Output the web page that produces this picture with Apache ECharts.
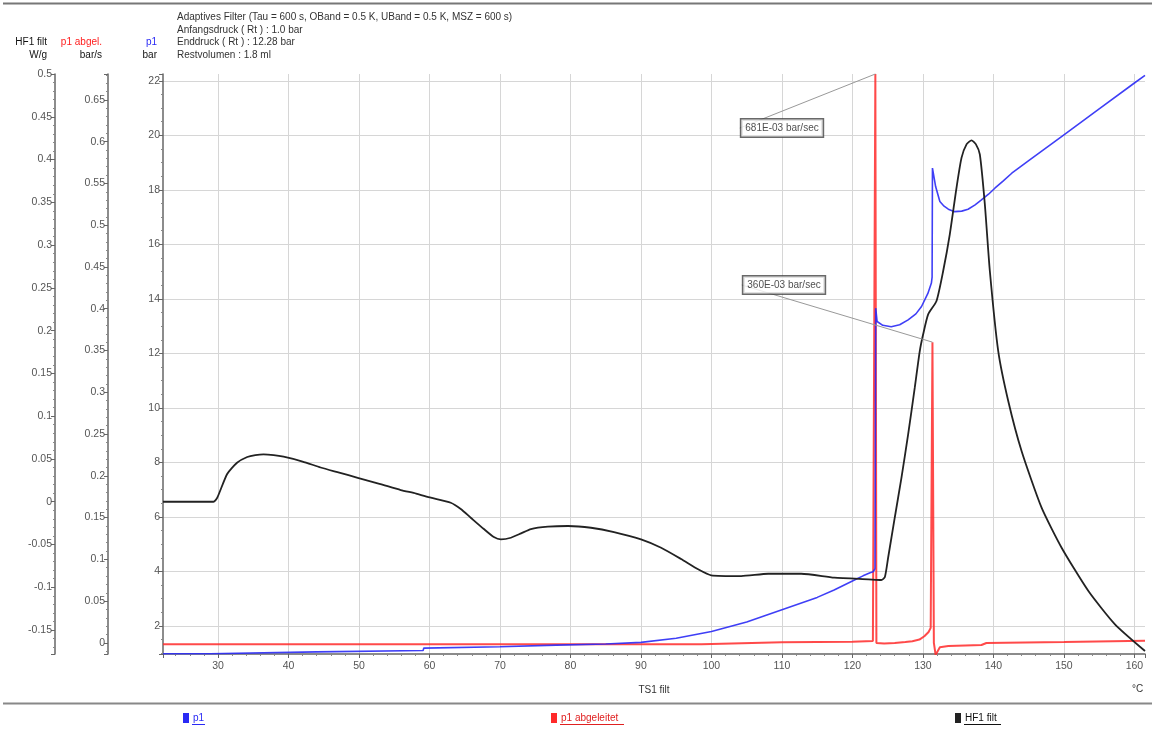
<!DOCTYPE html>
<html><head><meta charset="utf-8">
<script src="https://cdn.jsdelivr.net/npm/echarts@6/dist/echarts.min.js"></script>
<style>html,body{margin:0;padding:0;background:#fff}#c{width:1155px;height:731px}</style>
</head><body><div id="c"></div><script>
// ---- header text ----
const headerLines = [
  'Adaptives Filter (Tau = 600 s, OBand = 0.5 K, UBand = 0.5 K, MSZ = 600 s)',
  'Anfangsdruck ( Rt ) : 1.0 bar',
  'Enddruck ( Rt ) : 12.28 bar',
  'Restvolumen : 1.8 ml'
];
const xAxisName = 'TS1 filt';
const xAxisUnit = '°C';
const seriesNames = ['p1', 'p1 abgeleitet', 'HF1 filt'];
const axisTitles = [['p1', 'bar'], ['p1 abgel.', 'bar/s'], ['HF1 filt', 'W/g']];
const annotationTexts = ['681E-03 bar/sec', '360E-03 bar/sec'];

// ---- p1 (bar) ----
const p1T = [22.2, 28.9, 29.0, 44.0, 44.1, 59.1, 59.2, 70, 78, 85, 90, 95, 100, 105, 110, 115, 117.4, 120, 121.5, 122.5, 122.93, 123.2, 123.3, 123.5, 124.3, 125.5, 126.7, 127.9, 129.0, 129.8, 130.7, 131.2, 131.3, 131.35, 131.8, 132.4, 133.0, 133.6, 134.5, 135.5, 136.4, 137.4, 138.3, 139.3, 140.2, 141.4, 142.6, 145, 150, 155, 160, 161.5];
const p1V = [0.98, 0.98, 1.05, 1.05, 1.1, 1.1, 1.19, 1.24, 1.3, 1.34, 1.4, 1.55, 1.8, 2.15, 2.6, 3.05, 3.32, 3.65, 3.84, 3.95, 3.99, 4.1, 13.66, 13.17, 13.03, 12.98, 13.05, 13.23, 13.45, 13.72, 14.2, 14.58, 14.8, 18.8, 18.12, 17.57, 17.4, 17.29, 17.2, 17.22, 17.29, 17.45, 17.63, 17.84, 18.06, 18.33, 18.61, 19.07, 20.02, 20.97, 21.92, 22.2];

// ---- p1 abgeleitet (bar/s) ----
const dT = [22.2, 98.6, 98.7, 110, 120, 122.9, 123.15, 123.25, 123.4, 124.5, 126, 127.5, 128.5, 129.5, 130.2, 130.8, 131.1, 131.25, 131.35, 131.55, 131.8, 132.4, 133.6, 136, 138.3, 139, 150, 161.5];
const dV = [-0.0017, -0.0017, 0.0003, 0.0008, 0.0015, 0.0024, 0.003, 0.681, 0.0, -0.0008, 0.0, 0.001, 0.002, 0.004, 0.008, 0.013, 0.018, 0.02, 0.36, 0.0, -0.0144, -0.0053, -0.0037, -0.003, -0.0025, -0.0001, 0.001, 0.0027];

// ---- HF1 filt (W/g) ----
const hT = [22.2, 29.36, 29.9, 31.3, 32.7, 34.15, 35.3, 36.46, 37.9, 39.3, 42, 44.56, 47.2, 49.82, 52.9, 55.92, 58.1, 60.18, 63.02, 64.44, 65.86, 67.71, 69.13, 70.13, 71.55, 73, 74.39, 76.8, 79.64, 82.91, 86.18, 90.01, 92.86, 95.7, 98.11, 99.96, 104.22, 108.05, 112.74, 117.43, 122.26, 124.1, 124.6, 125.06, 126.0, 126.95, 127.9, 128.84, 129.55, 130.03, 130.74, 131.92, 132.87, 133.81, 134.76, 135.47, 136.2, 136.89, 137.5, 138.07, 138.78, 139.49, 140.68, 142.1, 143.99, 146.83, 149.67, 153.47, 157.24, 161.5];
const hV = [0, 0, 0.0047, 0.0324, 0.0456, 0.0523, 0.0545, 0.0554, 0.0545, 0.0526, 0.047, 0.040, 0.034, 0.028, 0.021, 0.0137, 0.0095, 0.0047, -0.0012, -0.0085, -0.0187, -0.0319, -0.0413, -0.044, -0.0421, -0.037, -0.0319, -0.0292, -0.0284, -0.0304, -0.0354, -0.044, -0.0538, -0.067, -0.079, -0.086, -0.0869, -0.0842, -0.0842, -0.0888, -0.0907, -0.0915, -0.088, -0.0655, -0.0187, 0.028, 0.0788, 0.1333, 0.176, 0.1957, 0.219, 0.2346, 0.2697, 0.3126, 0.367, 0.402, 0.418, 0.4225, 0.418, 0.406, 0.3477, 0.2697, 0.176, 0.1177, 0.0593, -0.007, -0.0538, -0.1044, -0.1433, -0.1745];

// annotated peaks of p1 abgeleitet
const peakT = [123.25, 131.35];
const peakV = [0.681, 0.36];

const zip = (a, b) => a.map((v, i) => [v, b[i]]);
const FONT = "'Liberation Sans Narrow','Liberation Sans',Arial,sans-serif";
const colors = {p1: '#2a2af5', d: '#ff2a2a', h: '#222222'};

function yAxisCfg(idx, min, max, split, offset, minorSplit, titleColor, padRight, extra) {
  return Object.assign({
    type: 'value', position: 'left', offset: offset, min: min, max: max, splitNumber: split,
    name: '{t|' + axisTitles[idx][0] + '}\n{u|' + axisTitles[idx][1] + '}',
    nameLocation: 'end', nameGap: 12,
    nameTextStyle: {align: 'right', verticalAlign: 'bottom', padding: [0, padRight, 0, 0],
      rich: {t: {color: titleColor, fontSize: 10, lineHeight: 13, align: 'right', fontFamily: FONT},
             u: {color: '#111', fontSize: 10, lineHeight: 13, align: 'right', fontFamily: FONT}}},
    axisLine: {show: true, onZero: false, lineStyle: {color: '#666', width: 1.5}},
    axisTick: {show: true, length: 4, lineStyle: {color: '#666'}},
    minorTick: {show: true, splitNumber: minorSplit, length: 2, lineStyle: {color: '#888'}},
    axisLabel: {fontSize: 10.5, color: '#555', margin: 3, showMinLabel: false, showMaxLabel: false, fontFamily: FONT},
    splitLine: {show: false}
  }, extra || {});
}

function legendCfg(name, left, color) {
  return {data: [name], left: left, top: 713, padding: 0, icon: 'rect', itemWidth: 6, itemHeight: 10, itemGap: 0,
          textStyle: {color: color, fontSize: 10, fontFamily: FONT, padding: [0, 0, 0, -1]}};
}

const chart = echarts.init(document.getElementById('c'), null, {renderer: 'canvas'});
chart.setOption({
  animation: false,
  backgroundColor: '#fff',
  textStyle: {fontFamily: FONT},
  title: {
    text: headerLines.join('\n'), left: 177, top: 11, padding: 0,
    textStyle: {fontSize: 10, fontWeight: 'normal', color: '#333', lineHeight: 12.5, fontFamily: FONT}
  },
  grid: {left: 163, right: 10, top: 74, bottom: 77, containLabel: false},
  xAxis: {
    type: 'value', min: 22.2, max: 161.5, splitNumber: 14,
    name: xAxisName, nameLocation: 'middle', nameGap: 31,
    nameTextStyle: {fontSize: 10, color: '#333', fontFamily: FONT},
    axisLine: {onZero: false, lineStyle: {color: '#666', width: 1.5}},
    axisTick: {length: 4, lineStyle: {color: '#666'}},
    minorTick: {show: true, splitNumber: 5, length: 2, lineStyle: {color: '#888'}},
    axisLabel: {fontSize: 10.5, color: '#555', margin: 7, showMinLabel: false, showMaxLabel: false, fontFamily: FONT},
    splitLine: {show: true, showMinLine: false, showMaxLine: false, lineStyle: {color: '#d6d6d6', width: 1}}
  },
  yAxis: [
    yAxisCfg(0, 0.973, 22.25, 10, 0, 4, colors.p1, 6,
      {splitLine: {show: true, showMinLine: false, showMaxLine: false, lineStyle: {color: '#d6d6d6', width: 1}}}),
    yAxisCfg(1, -0.0133, 0.681, 14, 55, 5, '#ff2020', 6),
    yAxisCfg(2, -0.178, 0.5, 13, 108, 5, '#111', 8,
      {axisLabel: {fontSize: 10.5, color: '#555', margin: 3, showMinLabel: false, showMaxLabel: true, fontFamily: FONT}})
  ],
  legend: [
    legendCfg(seriesNames[0], 183, colors.p1),
    legendCfg(seriesNames[1], 551, '#e02020'),
    legendCfg(seriesNames[2], 955, '#111')
  ],
  graphic: [
    {type: 'line', shape: {x1: 3, y1: 3.5, x2: 1152, y2: 3.5}, style: {stroke: '#777', lineWidth: 2}, silent: true},
    {type: 'line', shape: {x1: 3, y1: 703.5, x2: 1152, y2: 703.5}, style: {stroke: '#888', lineWidth: 2}, silent: true},
    {type: 'text', left: 1132, top: 684, style: {text: xAxisUnit, fontSize: 10, fill: '#333', fontFamily: FONT}, silent: true},
    // legend underlines
    {type: 'line', shape: {x1: 192, y1: 724.5, x2: 205, y2: 724.5}, style: {stroke: colors.p1, lineWidth: 1}, silent: true},
    {type: 'line', shape: {x1: 560, y1: 724.5, x2: 624, y2: 724.5}, style: {stroke: '#e02020', lineWidth: 1}, silent: true},
    {type: 'line', shape: {x1: 964, y1: 724.5, x2: 1001, y2: 724.5}, style: {stroke: '#111', lineWidth: 1}, silent: true}
  ],
  series: [
    {name: seriesNames[1], type: 'line', xAxisIndex: 0, yAxisIndex: 1, data: zip(dT, dV),
     showSymbol: false, lineStyle: {color: colors.d, width: 2, opacity: 0.85}, itemStyle: {color: colors.d}, z: 3},
    {name: seriesNames[0], type: 'line', xAxisIndex: 0, yAxisIndex: 0, data: zip(p1T, p1V),
     showSymbol: false, lineStyle: {color: colors.p1, width: 1.6, opacity: 0.9}, itemStyle: {color: colors.p1}, z: 4},
    {name: seriesNames[2], type: 'line', xAxisIndex: 0, yAxisIndex: 2, data: zip(hT, hV),
     showSymbol: false, smooth: 0.2, lineStyle: {color: colors.h, width: 1.8}, itemStyle: {color: colors.h}, z: 5},
    {name: 'annot', type: 'scatter', xAxisIndex: 0, yAxisIndex: 1, data: zip(peakT, peakV),
     symbolSize: 0, silent: true, z: 6,
     label: {show: true, formatter: p => annotationTexts[p.dataIndex], fontSize: 10, color: '#222', fontFamily: FONT,
       backgroundColor: '#ffffff', borderColor: '#444', borderWidth: 1.5, padding: [4, 4, 3, 4]},
     labelLine: {show: true, lineStyle: {color: '#999', width: 1}},
     labelLayout: p => p.dataIndex === 0
       ? {x: 782, y: 128, align: 'center', verticalAlign: 'middle', moveOverlap: false}
       : {x: 784, y: 285, align: 'center', verticalAlign: 'middle', moveOverlap: false}}
  ]
});
</script></body></html>
